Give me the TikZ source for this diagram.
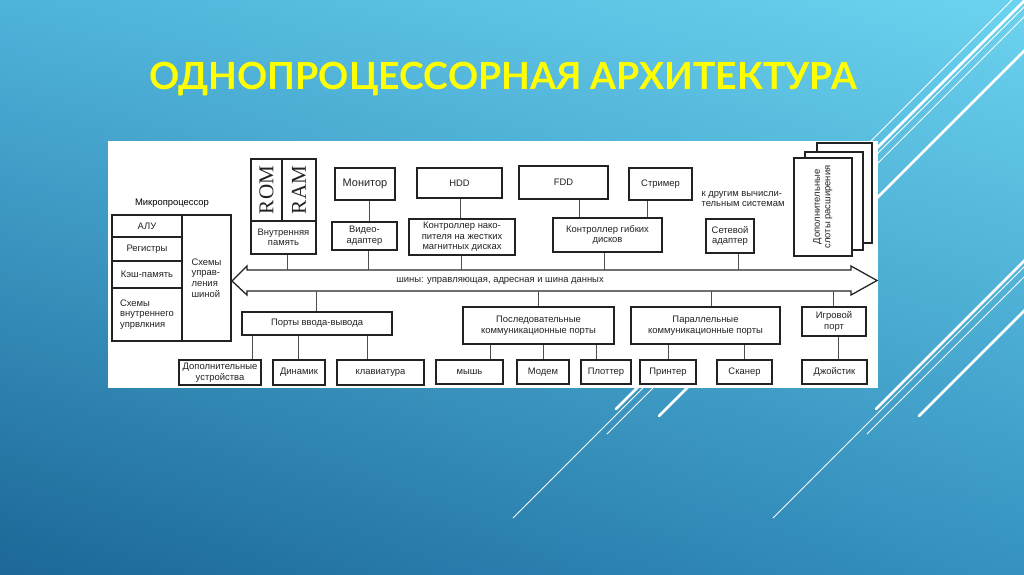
\documentclass[tikz,border=0pt]{standalone}
\usepackage{fontspec}
\setmainfont{Liberation Sans}
\newfontfamily\titlefont{Lato}
\newfontfamily\romfont{Liberation Serif}
\usetikzlibrary{calc,shadings}

\definecolor{bgTL}{HTML}{4FB3DA}
\definecolor{bgTR}{HTML}{6CD3EF}
\definecolor{bgBL}{HTML}{1C6797}
\definecolor{bgBR}{HTML}{3592C0}
\definecolor{titleyellow}{HTML}{FFFF00}
\definecolor{ink}{HTML}{222222}

\begin{document}
\begin{tikzpicture}[
    x=0.025cm, y=-0.025cm,
    font=\fontsize{6.7}{7.5}\selectfont,
    cell/.style 2 args={minimum width=#1*0.025cm, minimum height=#2*0.025cm},
    box/.style={draw=ink, line width=0.9pt, fill=white, inner sep=0pt, align=center, text=ink},
    boldbox/.style={box, line width=1.5pt},
    busline/.style={draw=ink, line width=0.9pt, fill=white},
    link/.style={draw=ink!80, line width=0.6pt},
    deco/.style={white, line width=0.7pt},
    decothick/.style={white, line width=1.9pt, line cap=round}
]
\useasboundingbox (0,0) rectangle (1024,574);
\shade[upper left=bgTL, upper right=bgTR, lower left=bgBL, lower right=bgBR] (0,0) rectangle (1024,574);

% background strokes
\draw[deco] (700,312) -- (1012,0);
\foreach \dx in {0,260} {
  \draw[decothick] (616+\dx,409) -- ++(420,-420);
  \draw[deco] (513+\dx,518) -- ++(520,-520);
  \draw[deco] (607+\dx,434) -- ++(440,-440);
  \draw[decothick] (659+\dx,416) -- ++(420,-420);
}
\fill[white] (108,141) rectangle (878,388);

% title
\node[text=titleyellow, font=\titlefont\bfseries\fontsize{26.6}{27}\selectfont] (title) at (503,79) {ОДНОПРОЦЕССОРНАЯ АРХИТЕКТУРА};

% microprocessor
\node (mplabel) at (172,203) {Микропроцессор};
\node[box, cell={70}{22}] (alu) at (147,226) {АЛУ};
\node[box, cell={70}{24}] (reg) at (147,249) {Регистры};
\node[box, cell={70}{27}] (cache) at (147,274.5) {Кэш-память};
\node[box, cell={70}{53}, align=left] (ictl) at (147,314.5) {Схемы\\внутреннего\\упрвлкния};
\node[box, cell={49}{126}, align=left] (bctl) at (206.5,278) {Схемы\\управ-\\ления\\шиной};

% memory
\node[box, cell={31}{62}] (rom) at (266.5,190) {\romfont\fontsize{15}{15}\selectfont\rotatebox{90}{ROM}};
\node[box, cell={34}{62}] (ram) at (299,190) {\romfont\fontsize{15}{15}\selectfont\rotatebox{90}{RAM}};
\node[box, cell={65}{33}] (mem) at (283.5,237.5) {Внутренняя\\память};

% devices above the bus
\node[boldbox, cell={60}{32}, font=\fontsize{7.8}{8}\selectfont] (mon) at (365,184) {Монитор};
\node[boldbox, cell={65}{28}] (vid) at (364.5,236) {Видео-\\адаптер};
\node[box, cell={85}{30}] (hdd) at (459.5,183) {HDD};
\node[box, cell={106}{36}] (hddc) at (462,237) {Контроллер нако-\\пителя на жестких\\магнитных дисках};
\node[box, cell={89}{33}] (fdd) at (563.5,182.5) {FDD};
\node[box, cell={109}{34}] (fddc) at (607.5,235) {Контроллер гибких\\дисков};
\node[box, cell={63}{32}] (stream) at (660.5,184) {Стример};
\node[align=left, text=ink] (other) at (743,199) {к другим вычисли-\\тельным системам};
\node[box, cell={48}{34}] (net) at (730,236) {Сетевой\\адаптер};
\node[box, cell={55}{100}] (slot3) at (844.5,193) {};
\node[box, cell={58}{98}] (slot2) at (834,201) {};
\node[box, cell={58}{98}] (slot1) at (823,207) {\rotatebox{90}{\begin{tabular}{@{}c@{}}Дополнительные\\слоты расширения\end{tabular}}};

% bus
\draw[busline] (232,281) -- (247,266) -- (247,270) -- (851,270) -- (851,266) -- (877,280.5)
  -- (851,295) -- (851,291) -- (247,291) -- (247,295) -- cycle;
\node[cell={604}{21}, inner sep=0pt] (bus) at (549,280.5) {};
\node[text=ink] (buslabel) at (500,281) {шины: управляющая, адресная и шина данных};

% ports below the bus
\node[box, cell={150}{23}] (io) at (317,323.5) {Порты ввода-вывода};
\node[box, cell={151}{37}] (ser) at (538.5,325.5) {Последовательные\\коммуникационные порты};
\node[box, cell={149}{37}] (par) at (705.5,325.5) {Параллельные\\коммуникационные порты};
\node[box, cell={64}{29}] (game) at (834,321.5) {Игровой\\порт};

\node[box, cell={82}{25}] (ext) at (220,372.5) {Дополнительные\\устройства};
\node[box, cell={52}{25}] (spk) at (299,372.5) {Динамик};
\node[box, cell={87}{25}] (kbd) at (380.5,372.5) {клавиатура};
\node[box, cell={67}{24}] (mouse) at (469.5,372) {мышь};
\node[box, cell={52}{24}] (modem) at (543,372) {Модем};
\node[box, cell={50}{24}] (plot) at (606,372) {Плоттер};
\node[box, cell={56}{24}] (prn) at (668,372) {Принтер};
\node[box, cell={55}{24}] (scan) at (744.5,372) {Сканер};
\node[box, cell={65}{24}] (joy) at (834.5,372) {Джойстик};

% connectors
\foreach \a/\b/\d in {mon/vid/4, hdd/hddc/1, fdd/fddc/15.5, stream/fddc/-13.5} {
  \coordinate (t) at ($(\b.north -| \a.south)+(\d,0)$);
  \draw[link] (t) -- (t |- \a.south);
}
\foreach \a/\d in {mem/4, vid/4, hddc/-1, fddc/-3, net/8} {
  \coordinate (t) at ($(\a.south)+(\d,0)$);
  \draw[link] (t) -- (t |- bus.north);
}
\foreach \a/\d in {io/-1, ser/0, par/6, game/-1} {
  \coordinate (t) at ($(\a.north)+(\d,0)$);
  \draw[link] (t) -- (t |- bus.south);
}
\foreach \a/\b/\d in {io/ext/32, io/spk/-1, io/kbd/-13, ser/mouse/21, ser/modem/0, ser/plot/-10,
  par/prn/0, par/scan/0, game/joy/4} {
  \coordinate (t) at ($(\b.north)+(\d,0)$);
  \draw[link] (t) -- (t |- \a.south);
}
\end{tikzpicture}
\end{document}
